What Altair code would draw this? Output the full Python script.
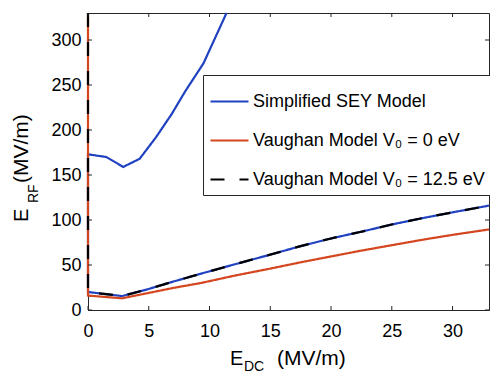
import altair as alt
import pandas as pd

# ---- data ----
series_names = ["Simplified SEY Model", "Vaughan Model V\u2080 = 0 eV", "Vaughan Model V\u2080 = 12.5 eV"]
series_colors = ["#2142c0", "#d4461f", "#000000"]

sey_x = [11.4, 9.5, 8.0, 6.9, 5.6, 4.25, 2.9, 1.5, 0.0, 0.0, 2.8, 4.9, 7.0, 9.2, 12, 15, 17.5, 20, 22.5, 25, 27.5, 30, 33]
sey_y = [330, 274, 243, 218, 192, 168, 159, 170, 173, 20, 15.5, 23, 31.5, 40, 50.5, 61.5, 71, 79.5, 87, 95, 102, 108.5, 116]

v0_x = [0.0, 0.0, 2.8, 5, 7, 9.3, 12, 15, 17.5, 20, 22.5, 25, 27.5, 30, 33]
v0_y = [330, 16, 13, 19, 24.5, 30, 38, 46, 53, 59.5, 66, 72, 78, 83.5, 89.5]

v125_x = [0.0, 0.0, 2.8, 4.9, 7.0, 9.2, 12, 15, 17.5, 20, 22.5, 25, 27.5, 30, 33]
v125_y = [330, 20, 15.5, 23, 31.5, 40, 50.5, 61.5, 71, 79.5, 87, 95, 102, 108.5, 116]

x_ticks = [0, 5, 10, 15, 20, 25, 30]
y_ticks = [0, 50, 100, 150, 200, 250, 300]

W, H = 401, 297
FONT = "Liberation Sans"

def frame(xs, ys, name):
    return pd.DataFrame({"x": xs, "y": ys, "series": name, "order": list(range(len(xs)))})

x_scale = alt.Scale(domain=[0, 33], nice=False, zero=False)
y_scale = alt.Scale(domain=[0, 330], nice=False, zero=False)

color_enc = alt.Color("series:N", scale=alt.Scale(domain=series_names, range=series_colors),
                      legend=alt.Legend(title=None))
dash_enc = alt.StrokeDash("series:N", scale=alt.Scale(domain=series_names, range=[[1, 0], [1, 0], [14, 15]]),
                          legend=alt.Legend(title=None))
width_enc = alt.StrokeWidth("series:N", scale=alt.Scale(domain=series_names, range=[2.2, 2.2, 4.5]),
                            legend=alt.Legend(title=None))

def line_layer(df):
    return alt.Chart(df).mark_line(clip=False).encode(
        x=alt.X("x:Q", scale=x_scale,
                axis=alt.Axis(values=x_ticks, title=None, tickSize=0, labelPadding=12,
                              grid=False, labelFlush=False)),
        y=alt.Y("y:Q", scale=y_scale,
                axis=alt.Axis(values=y_ticks, title=None, tickSize=0, labelPadding=7,
                              grid=False, labelFlush=False)),
        order="order:Q",
        color=color_enc,
        strokeDash=dash_enc,
        strokeWidth=width_enc,
    )

l_sey = line_layer(frame(sey_x, sey_y, series_names[0]))
l_v0 = line_layer(frame(v0_x, v0_y, series_names[1]))
l_v125 = line_layer(frame(v125_x, v125_y, series_names[2]))

xt = pd.DataFrame({"x": x_ticks})
yt = pd.DataFrame({"y": y_ticks})
tick_col = "#262626"
tb = alt.Chart(xt).mark_rule(color=tick_col, strokeWidth=1).encode(
    x=alt.X("x:Q", scale=x_scale), y=alt.value(H), y2=alt.value(H - 4))
tt = alt.Chart(xt).mark_rule(color=tick_col, strokeWidth=1).encode(
    x=alt.X("x:Q", scale=x_scale), y=alt.value(0), y2=alt.value(4))
tl = alt.Chart(yt).mark_rule(color=tick_col, strokeWidth=1).encode(
    y=alt.Y("y:Q", scale=y_scale), x=alt.value(0), x2=alt.value(4))
tr = alt.Chart(yt).mark_rule(color=tick_col, strokeWidth=1).encode(
    y=alt.Y("y:Q", scale=y_scale), x=alt.value(W), x2=alt.value(W - 4))

one = pd.DataFrame({"a": [0]})

def txt(s, x, y, size, angle=0):
    kw = dict(text=s, font=FONT, fontSize=size, color="black", align="left", baseline="alphabetic")
    if angle:
        kw["angle"] = angle
    return alt.Chart(one).mark_text(**kw).encode(x=alt.value(x), y=alt.value(y))

# x title: E_DC (MV/m)
xt1 = txt("E", 142, 352, 20)
xt2 = txt("DC", 156, 358, 14)
xt3 = txt("(MV/m)", 189, 352, 21)
# y title: E_RF (MV/m), rotated
yt1 = txt("E", -60, 209, 20, 270)
yt2 = txt("RF", -50, 190, 14, 270)
yt3 = txt("(MV/m)", -60, 170, 21, 270)

chart = alt.layer(
    l_sey, l_v0, l_v125, tb, tt, tl, tr, xt1, xt2, xt3, yt1, yt2, yt3
).properties(
    width=W, height=H,
    autosize=alt.AutoSizeParams(type="none"),
    padding={"left": 88, "top": 13, "right": 1, "bottom": 63},
).configure_view(
    stroke=tick_col, strokeWidth=1
).configure_axis(
    labelFont=FONT, labelFontSize=18, labelColor="black",
    domainColor=tick_col, domainWidth=1,
).configure_legend(
    orient="none", legendX=115, legendY=62,
    strokeColor=tick_col, fillColor="white", padding=6,
    labelFont=FONT, labelFontSize=18, labelColor="black", labelLimit=400,
    symbolType="stroke", symbolSize=1444, labelOffset=3, rowPadding=9,
    cornerRadius=0,
)

chart.save("out.html", embed_options={"renderer": "svg", "actions": False})
